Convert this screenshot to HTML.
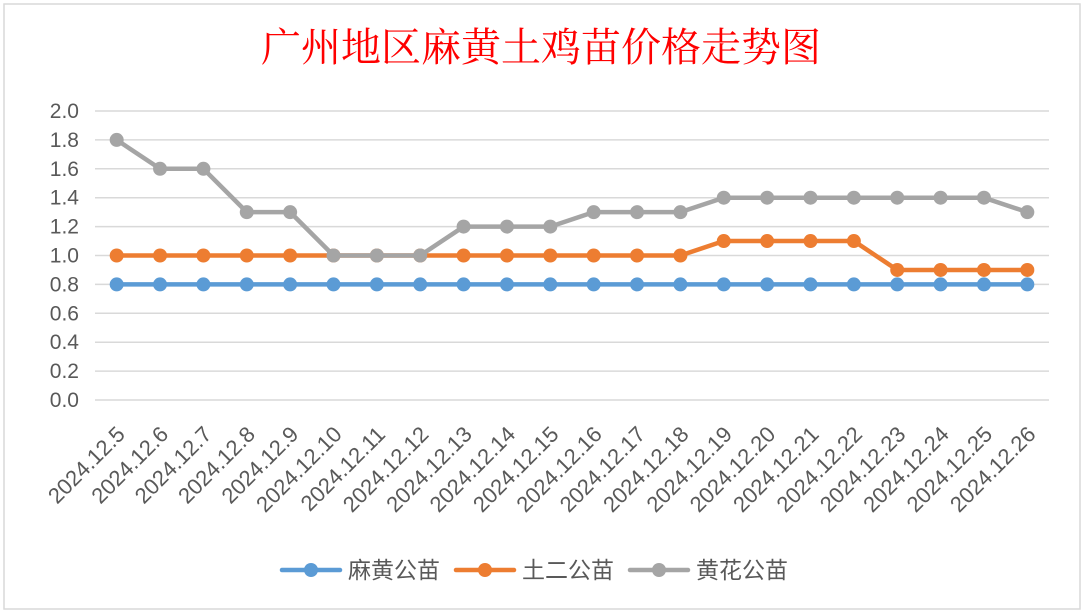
<!DOCTYPE html>
<html><head><meta charset="utf-8"><style>
body{margin:0;background:#fff;width:1086px;height:614px;overflow:hidden}
svg{display:block;font-family:"Liberation Sans","Noto Sans CJK SC",sans-serif}
</style></head><body>
<svg id="c" width="1086" height="614">
<rect x="4" y="4" width="1076" height="605" fill="#fff" stroke="#d9d9d9" stroke-width="1.5"/>
<text x="541" y="61" text-anchor="middle" font-size="40" fill="#ff0000" font-family="'Liberation Serif','Noto Serif CJK SC',serif">广州地区麻黄土鸡苗价格走势图</text>
<g id="grid"></g><g id="xl"></g><g id="series"></g><g id="legend"></g>
</svg>
<script>
const categories=["2024.12.5","2024.12.6","2024.12.7","2024.12.8","2024.12.9","2024.12.10","2024.12.11","2024.12.12","2024.12.13","2024.12.14","2024.12.15","2024.12.16","2024.12.17","2024.12.18","2024.12.19","2024.12.20","2024.12.21","2024.12.22","2024.12.23","2024.12.24","2024.12.25","2024.12.26"];
const mahuang=[0.8,0.8,0.8,0.8,0.8,0.8,0.8,0.8,0.8,0.8,0.8,0.8,0.8,0.8,0.8,0.8,0.8,0.8,0.8,0.8,0.8,0.8];
const tuer=[1.0,1.0,1.0,1.0,1.0,1.0,1.0,1.0,1.0,1.0,1.0,1.0,1.0,1.0,1.1,1.1,1.1,1.1,0.9,0.9,0.9,0.9];
const huanghua=[1.8,1.6,1.6,1.3,1.3,1.0,1.0,1.0,1.2,1.2,1.2,1.3,1.3,1.3,1.4,1.4,1.4,1.4,1.4,1.4,1.4,1.3];
const yTicks=["0.0","0.2","0.4","0.6","0.8","1.0","1.2","1.4","1.6","1.8","2.0"];
const seriesNames=["麻黄公苗","土二公苗","黄花公苗"];
const colors=["#5b9bd5","#ed7d31","#a5a5a5"];
const NS="http://www.w3.org/2000/svg";
const X0=95,X1=1049,Y0=400,Y1=111,YMAX=2.0;
const step=(X1-X0)/categories.length;
function xs(i){return X0+step*(i+0.5);}
function ys(v){return Y0-(v/YMAX)*(Y0-Y1);}
function mk(t,a,p){const e=document.createElementNS(NS,t);for(const k in a)e.setAttribute(k,a[k]);p.appendChild(e);return e;}
const grid=document.getElementById('grid');
yTicks.forEach(t=>{const v=parseFloat(t),y=ys(v);
 const l=mk('line',{x1:X0,x2:X1,y1:y,y2:y,stroke:'#d9d9d9','stroke-width':1.5},grid);
 
 
 const tx=mk('text',{x:79,y:y+7,'text-anchor':'end','font-size':21,fill:'#595959'},grid);
 tx.textContent=t;
 
 
});
const xl=document.getElementById('xl');
categories.forEach((c,i)=>{const x=xs(i)+4,y=430;
 const t=mk('text',{x:0,y:0,'text-anchor':'end','font-size':22,fill:'#595959',transform:`translate(${x},${y}) rotate(-45) translate(0,8)`},xl);
 t.textContent=c;
 
 
});
const sg=document.getElementById('series');
[mahuang,tuer,huanghua].forEach((d,s)=>{
 const g=mk('g',{},sg);
 
 
 const pl=mk('polyline',{points:d.map((v,i)=>xs(i)+','+ys(v)).join(' '),fill:'none',stroke:colors[s],'stroke-width':4.5,'stroke-linejoin':'round'},g);
 
 
 d.forEach((v,i)=>{const c=mk('circle',{cx:xs(i),cy:ys(v),r:7,fill:colors[s]},g);
  
  });
});
const lg=document.getElementById('legend');
const lx=[282,456,630];
seriesNames.forEach((n,s)=>{const g=mk('g',{},lg);
 
 
 mk('line',{x1:lx[s],x2:lx[s]+58,y1:570,y2:570,stroke:colors[s],'stroke-width':4.5,'stroke-linecap':'round'},g);
 mk('circle',{cx:lx[s]+29,cy:570,r:7,fill:colors[s]},g);
 const t=mk('text',{x:lx[s]+66,y:578,'font-size':23,fill:'#595959'},g);t.textContent=n;
});
</script>
</body></html>
